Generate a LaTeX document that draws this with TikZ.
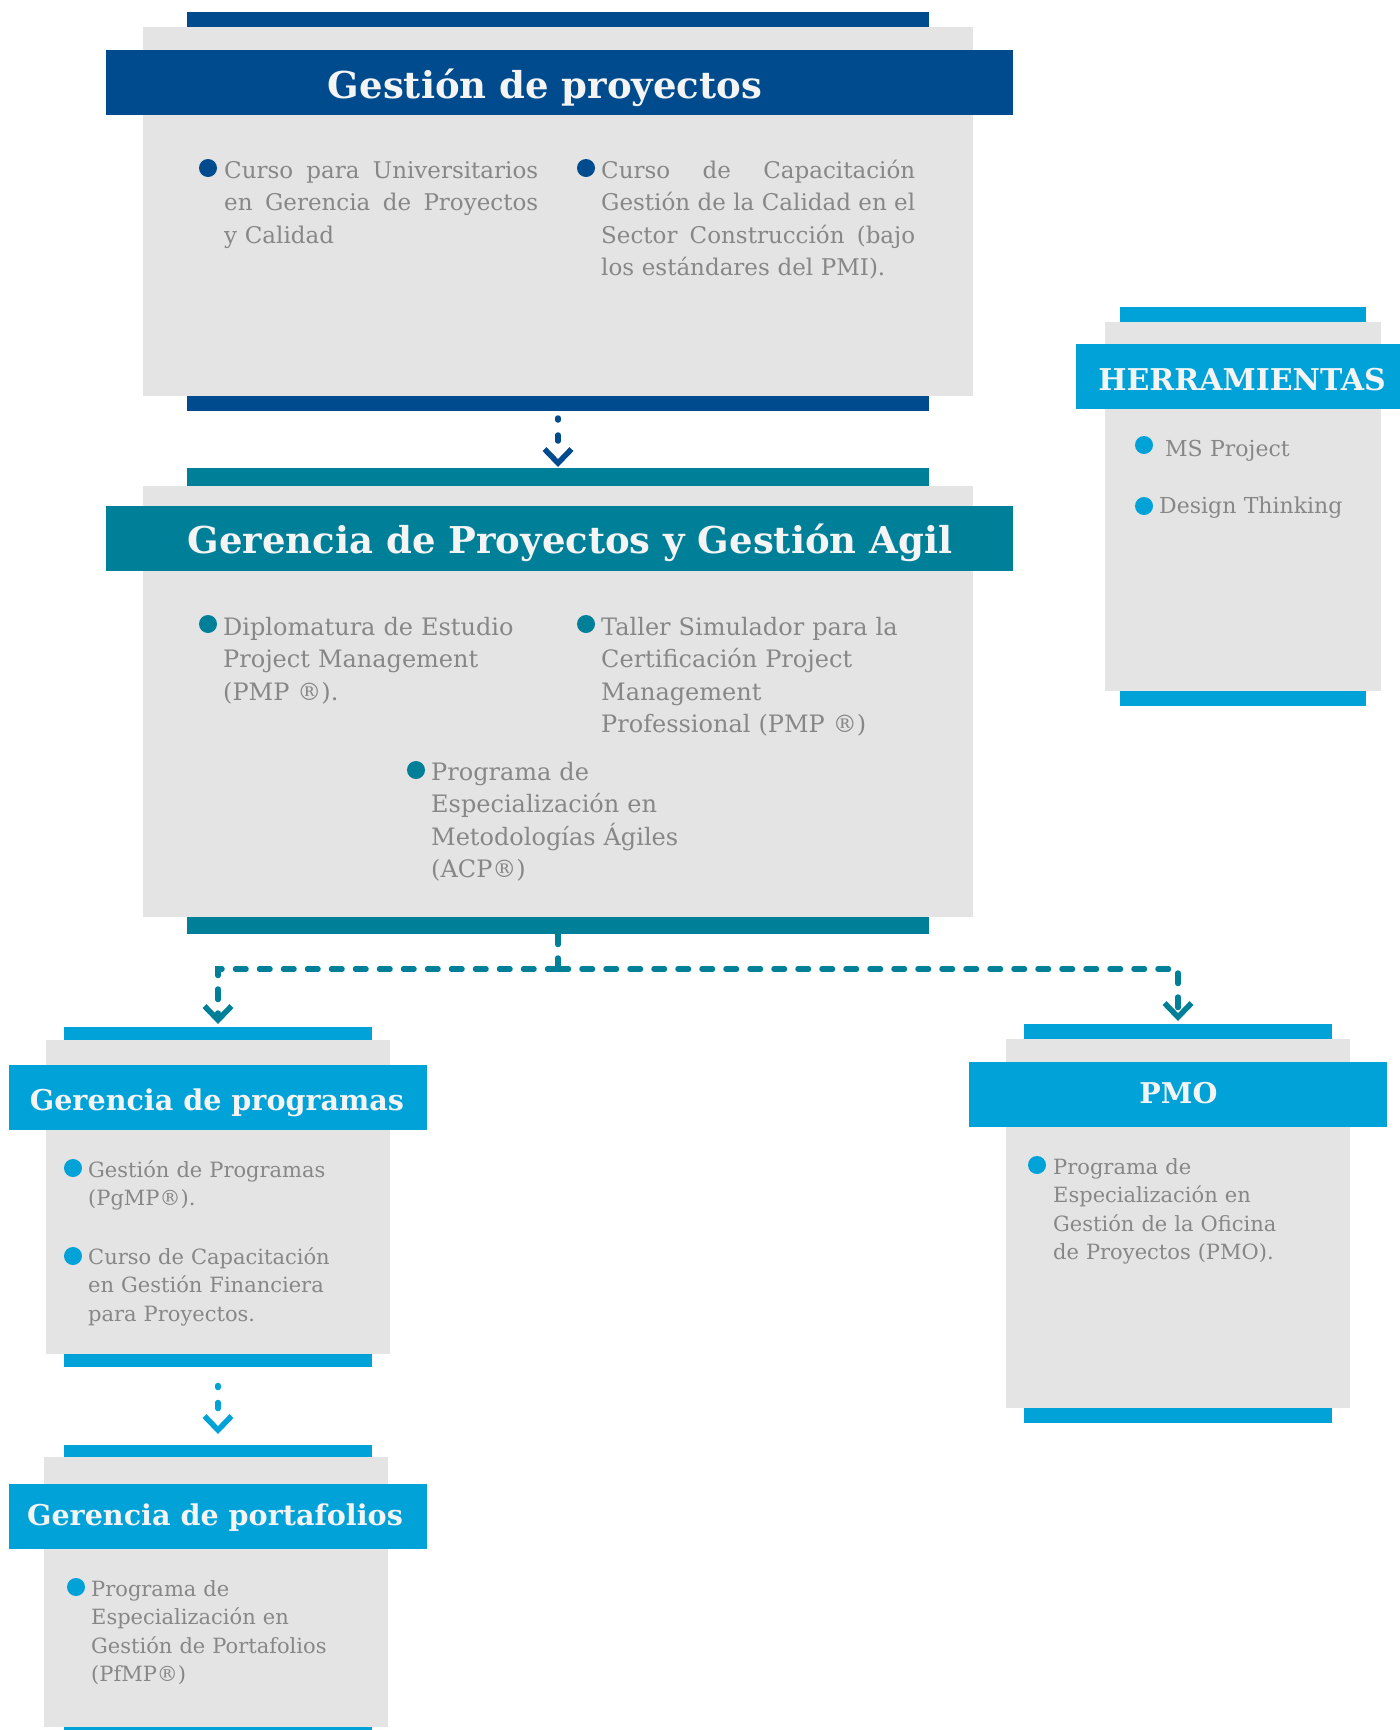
\documentclass[tikz,border=0pt]{standalone}
\usepackage{fontspec}
\setmainfont{DejaVu Serif}
\usetikzlibrary{arrows.meta}

\definecolor{pmiblue}{HTML}{004B8D}
\definecolor{pmiteal}{HTML}{007F99}
\definecolor{pmicyan}{HTML}{00A2D8}
\definecolor{cardgray}{HTML}{E4E4E4}
\definecolor{textgray}{HTML}{878787}
\definecolor{titlewhite}{HTML}{F4F4F4}

\newcommand{\fillline}[1]{\makebox[314pt][l]{#1}}

\begin{document}
\begin{tikzpicture}[x=1pt,y=-1pt,
    bar/.style={fill=#1,inner sep=0pt,outer sep=0pt,minimum height=15pt},
    card/.style={fill=cardgray,inner sep=0pt,outer sep=0pt},
    band/.style={fill=#1,inner sep=0pt,outer sep=0pt,minimum height=65pt},
    head/.style={font=\bfseries\fontsize{37}{40}\selectfont,text=titlewhite,anchor=base,inner sep=0pt},
    subhead/.style={font=\bfseries\fontsize{28.6}{32}\selectfont,text=titlewhite,anchor=base,inner sep=0pt},
    bigtext/.style={font=\fontsize{24}{32.5}\selectfont,text=textgray,anchor=base west,inner sep=0pt,text width=340pt,align=left},
    smalltext/.style={font=\fontsize{21}{28.5}\selectfont,text=textgray,anchor=base west,inner sep=0pt,text width=300pt,align=left},
    chevron/.tip={Straight Barb[length=14pt,width=27pt]},
    flow/.style={draw=#1,line width=5.5pt,line cap=round,dash pattern=on 2pt off 15pt on 6pt off 80pt,-chevron},
    link/.style={draw=pmiteal,line width=5.5pt,line cap=round,dash pattern=on 10.5pt off 13.5pt}
]
\useasboundingbox (0,0) rectangle (1400,1730);

% Gestion de proyectos
\node[card,minimum width=830pt,minimum height=369pt] (gpCard) at (558,211.5) {};
\node[bar=pmiblue,minimum width=742pt] (gpTop) at (558,19.5) {};
\node[bar=pmiblue,minimum width=742pt] (gpBot) at (558,403.5) {};
\node[band=pmiblue,minimum width=907pt] (gpBand) at (559.5,82.5) {};
\node[head] (gpTitle) at (545,98) {Gestión de proyectos};
\fill[pmiblue] (208,168) circle (9pt);
\fill[pmiblue] (586,168) circle (9pt);
\node[bigtext,font=\fontsize{23}{32.5}\selectfont] (gpItemA) at (224,178)
    {\fillline{Curso\hfill para\hfill Universitarios}\\\fillline{en\hfill Gerencia\hfill de\hfill Proyectos}\\y Calidad};
\node[bigtext,font=\fontsize{23}{32.5}\selectfont] (gpItemB) at (601,178)
    {\fillline{Curso\hfill de\hfill Capacitación}\\\fillline{Gestión\hfill de\hfill la\hfill Calidad\hfill en\hfill el}\\\fillline{Sector\hfill Construcción\hfill (bajo}\\los estándares del PMI).};

% Gerencia de proyectos y gestion agil
\node[card,minimum width=830pt,minimum height=431pt] (gagCard) at (558,701.5) {};
\node[bar=pmiteal,minimum width=742pt,minimum height=18pt] (gagTop) at (558,477) {};
\node[bar=pmiteal,minimum width=742pt,minimum height=17pt] (gagBot) at (558,925.5) {};
\node[band=pmiteal,minimum width=907pt] (gagBand) at (559.5,538.5) {};
\node[head] (gagTitle) at (570,553) {Gerencia de Proyectos y Gestión Agil};
\fill[pmiteal] (208,624) circle (9pt);
\fill[pmiteal] (586,624) circle (9pt);
\fill[pmiteal] (416,770) circle (9pt);
\node[bigtext] (gagItemA) at (223,635) {Diplomatura de Estudio\\Project Management\\(PMP ®).};
\node[bigtext] (gagItemB) at (601,635) {Taller Simulador para la\\Certificación Project\\Management\\Professional (PMP ®)};
\node[bigtext] (gagItemC) at (431,780) {Programa de\\Especialización en\\Metodologías Ágiles\\(ACP®)};

% Herramientas
\node[card,minimum width=276pt,minimum height=369pt] (toolCard) at (1243,506.5) {};
\node[bar=pmicyan,minimum width=246pt] (toolTop) at (1243,314.5) {};
\node[bar=pmicyan,minimum width=246pt] (toolBot) at (1243,698.5) {};
\node[band=pmicyan,minimum width=324pt] (toolBand) at (1238,376.5) {};
\node[subhead,font=\bfseries\fontsize{30}{32}\selectfont] (toolTitle) at (1242,390) {HERRAMIENTAS};
\fill[pmicyan] (1144,445) circle (9pt);
\fill[pmicyan] (1144,506) circle (9pt);
\node[smalltext,font=\fontsize{22}{28.5}\selectfont] (toolItemA) at (1165,456) {MS Project};
\node[smalltext,font=\fontsize{22}{28.5}\selectfont] (toolItemB) at (1159,513) {Design Thinking};

% Gerencia de programas
\node[card,minimum width=344pt,minimum height=314pt] (progCard) at (218,1197) {};
\node[bar=pmicyan,minimum width=308pt,minimum height=13pt] (progTop) at (218,1033.5) {};
\node[bar=pmicyan,minimum width=308pt,minimum height=13pt] (progBot) at (218,1360.5) {};
\node[band=pmicyan,minimum width=418pt] (progBand) at (218,1097.5) {};
\node[subhead] (progTitle) at (217,1110) {Gerencia de programas};
\fill[pmicyan] (73,1168) circle (9pt);
\fill[pmicyan] (73,1256) circle (9pt);
\node[smalltext] (progItemA) at (88,1177) {Gestión de Programas\\(PgMP®).};
\node[smalltext] (progItemB) at (88,1264) {Curso de Capacitación\\en Gestión Financiera\\para Proyectos.};

% Gerencia de portafolios
\node[card,minimum width=344pt,minimum height=270pt] (portCard) at (216,1592) {};
\node[bar=pmicyan,minimum width=308pt,minimum height=12pt] (portTop) at (218,1451) {};
\node[bar=pmicyan,minimum width=308pt,minimum height=14pt] (portBot) at (218,1734) {};
\node[band=pmicyan,minimum width=418pt] (portBand) at (218,1516.5) {};
\node[subhead] (portTitle) at (215,1525) {Gerencia de portafolios};
\fill[pmicyan] (76,1587) circle (9pt);
\node[smalltext] (portItem) at (91,1596) {Programa de\\Especialización en\\Gestión de Portafolios\\(PfMP®)};

% PMO
\node[card,minimum width=344pt,minimum height=369pt] (pmoCard) at (1178,1223.5) {};
\node[bar=pmicyan,minimum width=308pt] (pmoTop) at (1178,1031.5) {};
\node[bar=pmicyan,minimum width=308pt] (pmoBot) at (1178,1415.5) {};
\node[band=pmicyan,minimum width=418pt] (pmoBand) at (1178,1094.5) {};
\node[subhead] (pmoTitle) at (1178.5,1103) {PMO};
\fill[pmicyan] (1037,1165) circle (9pt);
\node[smalltext] (pmoItem) at (1053,1174) {Programa de\\Especialización en\\Gestión de la Oficina\\de Proyectos (PMO).};

% connectors
\coordinate (split) at (558,969);
\draw[flow=pmiblue] ([yshift=-7pt]gpBot.south) -- ([yshift=1pt]gagTop.north);
\draw[link] (gagBot.south) -- (split);
\draw[link,-chevron] (split) -| ([yshift=3pt]progTop.north);
\draw[link,-chevron] (split) -| ([yshift=3pt]pmoTop.north);
\draw[flow=pmicyan] ([yshift=-18.5pt]progBot.south) -- ([yshift=11pt]portTop.north);
\end{tikzpicture}
\end{document}
